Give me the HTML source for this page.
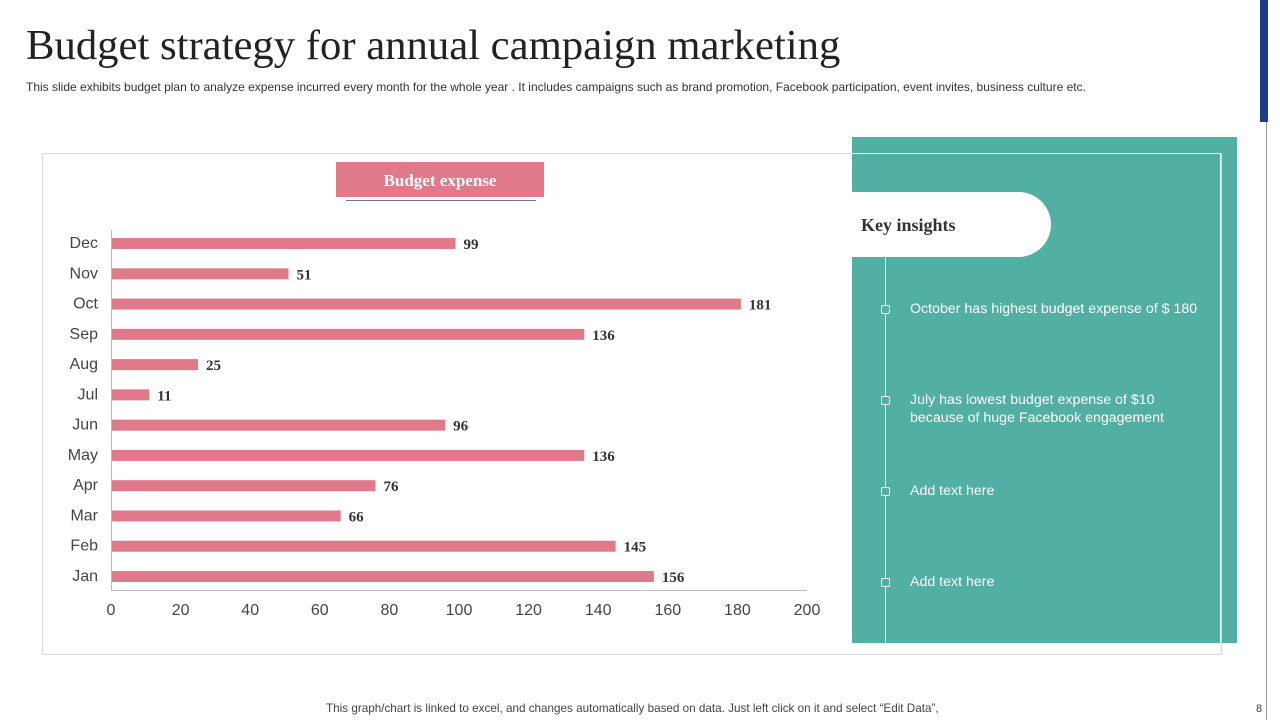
<!DOCTYPE html>
<html><head><meta charset="utf-8"><style>
body{margin:0;width:1280px;height:720px;background:#fff;position:relative;overflow:hidden;font-family:"Liberation Sans",sans-serif}
.a{position:absolute}
</style></head><body>
<div class="a" style="left:26px;top:21px;font-family:'Liberation Serif',serif;font-size:42.7px;color:#222">Budget strategy for annual campaign marketing</div>
<div class="a" style="left:26px;top:80px;font-size:12px;color:#333;white-space:nowrap">This slide exhibits budget plan to analyze expense incurred every month for the whole year . It includes campaigns such as brand promotion, Facebook participation, event invites, business culture etc.</div>
<div class="a" style="left:1260px;top:0;width:8px;height:122px;background:#1f3a8a"></div>
<div class="a" style="left:1266px;top:122px;width:1px;height:598px;background:#999"></div>
<div class="a" style="left:852px;top:137px;width:385px;height:506px;background:#52afa3"></div>
<div class="a" style="left:42px;top:153px;width:1178px;height:500px;border:1px solid #d8d8d8"></div>
<div class="a" style="left:852px;top:153px;width:368px;height:1px;background:#e8f4f2"></div>
<div class="a" style="left:1220px;top:153px;width:1px;height:490px;background:#e8f4f2"></div>
<div class="a" style="left:852px;top:192px;width:199px;height:65px;background:#fff;border-radius:0 33px 33px 0"></div>
<div class="a" style="left:861px;top:215px;font-family:'Liberation Serif',serif;font-weight:bold;font-size:18px;color:#333">Key insights</div>
<div class="a" style="left:885px;top:257px;width:1px;height:386px;background:#e8f4f2"></div>
<div id="ins"></div>
<div class="a" style="left:336px;top:162px;width:208px;height:35px;background:#e07a8a;color:#fff;font-family:'Liberation Serif',serif;font-weight:bold;font-size:17px;text-align:center;line-height:37px">Budget expense</div>
<div class="a" style="left:346px;top:200px;width:190px;height:1px;background:#777"></div>
<svg class="a" style="left:0;top:0" width="1280" height="720" id="chart"></svg>
<div class="a" style="left:326px;top:702px;font-size:11.7px;color:#444;white-space:nowrap">This graph/chart is linked to excel, and changes automatically based on data. Just left click on it and select “Edit Data”,</div>
<div class="a" style="left:1256px;top:703px;font-size:11px;color:#444">8</div>
<script>
const categories=["Jan","Feb","Mar","Apr","May","Jun","Jul","Aug","Sep","Oct","Nov","Dec"];
const values=[156,145,66,76,136,96,11,25,136,181,51,99];
const ticks=[0,20,40,60,80,100,120,140,160,180,200];
const insights=["October has highest budget expense of $ 180","July has lowest budget expense of $10<br>because of huge Facebook engagement","Add text here","Add text here"];
const NS="http://www.w3.org/2000/svg",svg=document.getElementById('chart');
const x=v=>111+v*3.48, y=i=>576-i*30.27;
function mk(t,a){const e=document.createElementNS(NS,t);for(const k in a)e.setAttribute(k,a[k]);svg.appendChild(e);return e;}
const ax=mk('path',{d:'M111.5 230V590.5H807',stroke:'#bbb',fill:'none'});


ticks.forEach(t=>{const e=mk('text',{x:x(t),y:615,'text-anchor':'middle','font-size':16,fill:'#444','font-family':'Liberation Sans'});e.textContent=t;

});
categories.forEach((c,i)=>{
const l=mk('text',{x:98,y:y(i)+5,'text-anchor':'end','font-size':16,fill:'#444','font-family':'Liberation Sans'});l.textContent=c;


const b=mk('rect',{x:x(0)+1,y:y(i)-5,width:x(values[i])-x(0)-1,height:11,fill:'#e07a8a'});


const v=mk('text',{x:x(values[i])+8,y:y(i)+6,'font-size':15,'font-weight':'bold',fill:'#333','font-family':'Liberation Serif'});v.textContent=values[i];

});
const ins=document.getElementById('ins');
insights.forEach((t,i)=>{const cy=309+i*91;
const d=document.createElement('div');d.className='a';d.style.cssText=`left:881px;top:${cy-4}px;width:7px;height:7px;border:1px solid #fff;border-radius:2px;background:#52afa3`;

ins.appendChild(d);
const p=document.createElement('div');p.className='a';p.style.cssText=`left:910px;top:${cy-9}px;font-size:14.2px;color:#fff;line-height:18px;white-space:nowrap`;p.innerHTML=t;

ins.appendChild(p);});
</script>
</body></html>
